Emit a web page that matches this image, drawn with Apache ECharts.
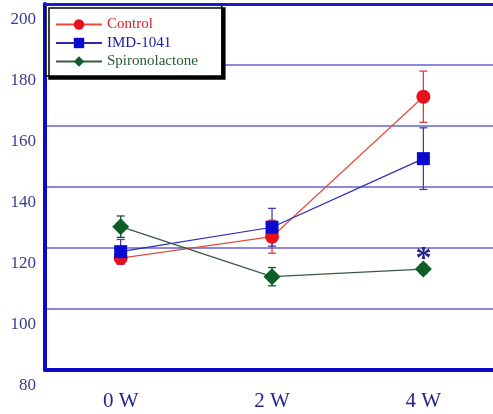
<!DOCTYPE html>
<html>
<head>
<meta charset="utf-8">
<script src="https://cdn.jsdelivr.net/npm/echarts@6/dist/echarts.min.js"></script>
<style>
  html, body { margin: 0; padding: 0; background: #ffffff; }
  #chart { width: 493px; height: 414px; }
</style>
</head>
<body>
<div id="chart"></div>
<script>
// Weeks of treatment
var categories = ['0 W', '2 W', '4 W'];

// Mean values and standard errors (mmHg) per group
var controlMean = [116.7, 123.7, 169.6];
var controlErr  = [2.0, 5.4, 8.4];
var imdMean     = [118.8, 126.8, 149.3];
var imdErr      = [4.0, 6.2, 10.1];
var spiroMean   = [127.0, 110.6, 113.1];
var spiroErr    = [3.5, 3.0, 1.5];

var yTicks = { min: 80, max: 200, step: 20 };
// x runs over category indices; the plot extends a little past the last band
var xRange = { min: -0.5, max: 2.46, step: 0.5 };

var COLORS = {
  control: '#e8101a',
  imd: '#0a0ad0',
  spiro: '#0d5e28'
};

function pairs(values) {
  return values.map(function (v, i) { return [i, v]; });
}

function errorSeries(name, means, errs, color) {
  var data = means.map(function (m, i) { return [i, m - errs[i], m + errs[i]]; });
  return {
    type: 'custom',
    name: name + ' SE',
    silent: true,
    z: 1,
    data: data,
    renderItem: function (params, api) {
      var lo = api.coord([api.value(0), api.value(1)]);
      var hi = api.coord([api.value(0), api.value(2)]);
      var cap = 4;
      var style = { stroke: color, lineWidth: 1.3 };
      return {
        type: 'group',
        children: [
          { type: 'line', shape: { x1: lo[0], y1: lo[1], x2: hi[0], y2: hi[1] }, style: style },
          { type: 'line', shape: { x1: lo[0] - cap, y1: lo[1], x2: lo[0] + cap, y2: lo[1] }, style: style },
          { type: 'line', shape: { x1: hi[0] - cap, y1: hi[1], x2: hi[0] + cap, y2: hi[1] }, style: style }
        ]
      };
    }
  };
}

var chart = echarts.init(document.getElementById('chart'));

var spiroData = pairs(spiroMean).map(function (p, i) {
  if (i === 2) {
    return {
      value: p,
      label: {
        show: true, position: 'top', distance: -15, formatter: '*',
        fontFamily: 'Liberation Serif', fontWeight: 'bold', fontSize: 32, color: '#22228a'
      }
    };
  }
  return p;
});

chart.setOption({
  backgroundColor: '#ffffff',
  animation: false,
  grid: { left: 45, right: 0, top: 4, bottom: 44, containLabel: false },
  legend: {
    left: 46, top: 5,
    orient: 'vertical',
    padding: [12, 24, 7, 9],
    itemGap: 3.5,
    itemWidth: 46, itemHeight: 13,
    backgroundColor: '#ffffff',
    borderColor: '#000000', borderWidth: 1.5,
    shadowColor: '#000000', shadowBlur: 0, shadowOffsetX: 3, shadowOffsetY: 3,
    data: [
      { name: 'Control', textStyle: { color: '#d8202a' } },
      { name: 'IMD-1041', textStyle: { color: '#1a1aa8' } },
      { name: 'Spironolactone', textStyle: { color: '#2a5a30' } }
    ],
    textStyle: { fontFamily: 'Liberation Serif', fontSize: 15 }
  },
  xAxis: {
    type: 'value',
    min: xRange.min, max: xRange.max, interval: xRange.step,
    axisLine: { show: true, onZero: false, lineStyle: { color: '#0a0ac8', width: 4 } },
    axisTick: { show: false },
    axisLabel: {
      fontFamily: 'Liberation Serif', fontSize: 21, color: '#24248c', margin: 21,
      showMinLabel: false, showMaxLabel: false,
      formatter: function (v) {
        return Number.isInteger(v) && categories[v] ? categories[v] : '';
      }
    },
    splitLine: { show: false }
  },
  yAxis: {
    type: 'value',
    min: yTicks.min, max: yTicks.max, interval: yTicks.step,
    axisLine: { show: true, onZero: false, lineStyle: { color: '#0a0ac8', width: 4 } },
    axisTick: { show: false },
    axisLabel: {
      fontFamily: 'Liberation Serif', fontSize: 17, color: '#3a3a90', margin: 9,
      verticalAlign: 'top', padding: [7, 0, 0, 0]
    },
    splitLine: { show: true, lineStyle: { color: '#8a8ad8', width: 2 } }
  },
  series: [
    errorSeries('Control', controlMean, controlErr, '#e03a3a'),
    errorSeries('IMD-1041', imdMean, imdErr, '#4a3aa8'),
    errorSeries('Spironolactone', spiroMean, spiroErr, COLORS.spiro),
    {
      name: 'Control', type: 'line', data: pairs(controlMean), z: 3,
      symbol: 'circle', symbolSize: 14,
      lineStyle: { color: '#e84a3a', width: 1.2 },
      itemStyle: { color: COLORS.control },
      markLine: {
        silent: true, symbol: 'none', label: { show: false },
        lineStyle: { color: '#1a1ad0', width: 3, type: 'solid' },
        data: [{ yAxis: yTicks.max }]
      }
    },
    {
      name: 'IMD-1041', type: 'line', data: pairs(imdMean), z: 4,
      symbol: 'rect', symbolSize: 13,
      lineStyle: { color: '#2a2ab8', width: 1.2 },
      itemStyle: { color: COLORS.imd }
    },
    {
      name: 'Spironolactone', type: 'line', data: spiroData, z: 5,
      symbol: 'diamond', symbolSize: 17,
      lineStyle: { color: '#3a5a40', width: 1.2 },
      itemStyle: { color: COLORS.spiro }
    }
  ]
});
</script>
</body>
</html>
